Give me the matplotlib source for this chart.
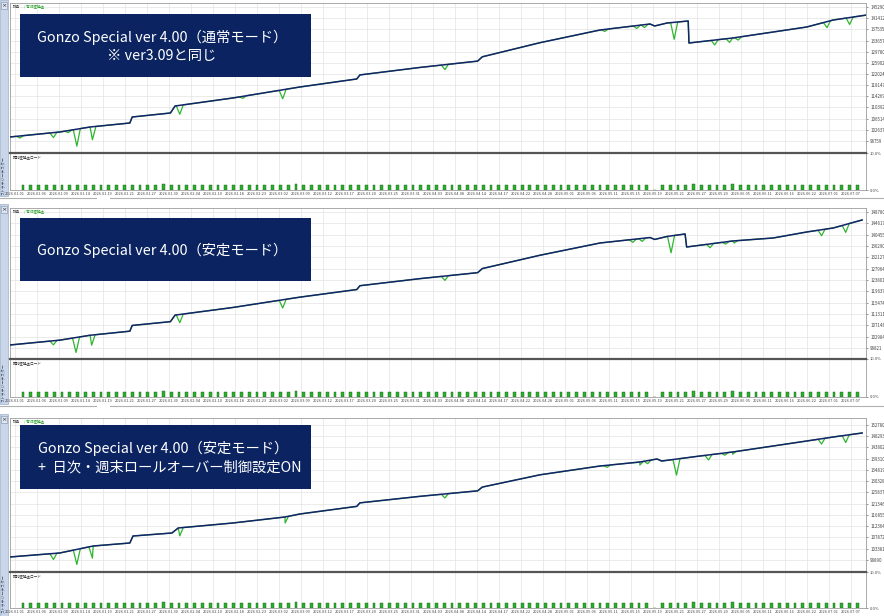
import numpy as np
import matplotlib
matplotlib.use("Agg")
import matplotlib.pyplot as plt
from matplotlib.patches import Rectangle

plt.rcParams['font.family'] = ['Noto Sans CJK JP', 'DejaVu Sans']

# ---------------- data ----------------
date_labels = ["2026.01.01", "2026.01.06", "2026.01.09", "2026.01.14", "2026.01.19",
               "2026.01.21", "2026.01.27", "2026.01.30", "2026.02.04", "2026.02.10",
               "2026.02.18", "2026.02.23", "2026.03.02", "2026.03.09", "2026.03.12",
               "2026.03.17", "2026.03.20", "2026.03.25", "2026.03.31", "2026.04.03",
               "2026.04.08", "2026.04.14", "2026.04.17", "2026.04.22", "2026.04.28",
               "2026.05.01", "2026.05.06", "2026.05.11", "2026.05.15", "2026.05.19",
               "2026.05.21", "2026.05.27", "2026.05.29", "2026.06.05", "2026.06.11",
               "2026.06.16", "2026.06.22", "2026.07.01", "2026.07.07"]

# Panel 1 : 通常モード
p1_trade = [-1.7, 4.7, 8.6, 13.7, 14.0, 18.9, 19.5, 26.9, 35.5, 42.8, 43.2, 50.9, 58.3, 58.9,
            66.3, 74.0, 80.4, 81.0, 82.6, 85.3, 85.4, 91.0, 96.2, 100.5, 103.9, 108.2]
p1_balance = [100148, 101884, 103621, 105010, 107093, 108482, 110913, 113691, 117511, 120300,
              121700, 124300, 126500, 128000, 132900, 137304, 139387, 138700, 139735, 140429,
              132789, 134525, 136609, 138345, 140776, 142512]
p1_dip_trade = [-0.4, 3.9, 5.8, 6.9, 8.9, 20.1, 28.2, 33.3, 54.1, 74.6, 78.7, 79.7, 83.5, 88.7,
                90.6, 91.7, 103.1, 106.0]
p1_dip_depth = [700, 1700, 700, 5900, 4500, 3100, 700, 3100, 1700, 700, 1000, 1000, 5900, 1700,
                1400, 1000, 2100, 2400]
p1_yticks = [98759, 102637, 106514, 110392, 114269, 118147, 122024, 125902, 129780, 133657,
             137535, 141412, 145290]

# Panel 2 : 安定モード
p2_trade = [-1.7, 4.7, 8.6, 13.7, 14.0, 18.9, 19.5, 26.9, 35.5, 42.8, 43.2, 50.9, 58.3, 58.9,
            66.3, 74.0, 80.4, 81.0, 82.6, 84.9, 85.1, 91.0, 96.2, 100.5, 103.9, 107.6]
p2_balance = [99923, 101700, 103500, 105000, 107100, 108500, 110900, 113700, 117500, 120300,
              121700, 124300, 126500, 128000, 132900, 137398, 139400, 138700, 139800, 140705,
              135928, 138133, 139235, 141439, 142909, 145848]
p2_dip_trade = [3.9, 6.8, 8.8, 20.1, 33.3, 54.1, 78.2, 79.4, 83.1, 88.1, 90.1, 91.2, 102.4, 105.5]
p2_dip_depth = [1500, 5500, 3700, 3000, 3000, 1600, 1100, 1100, 6200, 1400, 800, 800, 2200, 2900]
p2_yticks = [98821, 102984, 107148, 111311, 115474, 119637, 123801, 127964, 132127, 136290,
             140455, 144617, 148780]

# Panel 3 : 安定モード + ロールオーバー制御
p3_trade = [-1.7, 4.7, 9.0, 13.7, 14.1, 19.1, 19.9, 26.9, 33.6, 35.5, 42.8, 43.2, 50.9, 58.3,
            58.9, 66.3, 74.0, 79.1, 81.3, 81.9, 86.8, 91.0, 96.2, 100.5, 103.9, 107.6]
p3_balance = [100088, 101685, 104479, 105677, 108471, 109668, 111664, 113660, 116056, 117253,
              120300, 121700, 124300, 126500, 128000, 132900, 136415, 138000, 139210, 138400,
              140400, 142003, 144399, 146395, 147992, 149588]
p3_dip_trade = [3.9, 6.9, 8.9, 20.1, 33.6, 54.1, 74.9, 79.1, 80.1, 83.8, 87.9, 90.0, 91.0,
                102.4, 105.5]
p3_dip_depth = [2400, 6000, 4800, 3200, 2400, 1600, 800, 1200, 1200, 6400, 2000, 900, 900,
                2100, 2900]
p3_yticks = [98890, 103381, 107872, 112364, 116855, 121346, 125837, 130328, 134819, 139310,
             143802, 148293, 152780]

# 預託証拠金ロード (%) per trade
load_pct = [1.3, 1.3, 1.3, 1.3, 1.3, 1.3, 1.3, 1.3, 1.3, 1.3, 1.3, 1.3,
            1.3, 1.3, 1.3, 1.3, 1.3, 1.3, 1.6, 1.3, 1.3, 1.3, 1.3, 1.3,
            1.3, 1.3, 1.3, 1.3, 1.3, 1.3, 1.3, 1.3, 1.3, 1.3, 1.3, 1.6,
            1.3, 1.3, 1.3, 1.3, 1.3, 1.3, 1.3, 1.3, 1.3, 1.3, 1.3, 1.3,
            1.3, 1.3, 1.3, 1.3, 1.3, 1.3, 1.3, 1.3, 1.3, 1.3, 1.3, 1.3,
            1.3, 1.3, 1.3, 1.3, 1.3, 1.3, 1.3, 1.3, 1.3, 1.3, 1.3, 1.3,
            1.3, 1.3, 1.3, 1.3, 1.3, 1.3, 1.3, 1.3, 1.3, 0.0, 1.3, 1.3,
            1.3, 1.3, 1.6, 1.3, 1.3, 1.3, 1.3, 1.6, 1.3, 1.3, 1.3, 1.3,
            1.3, 1.3, 1.3, 1.3, 1.3, 1.3, 1.3, 1.3, 1.3, 1.3, 1.3, 1.3]

titles = [["Gonzo Special ver 4.00（通常モード）", "※ ver3.09と同じ"],
          ["Gonzo Special ver 4.00（安定モード）"],
          ["Gonzo Special ver 4.00（安定モード）", "+  日次・週末ロールオーバー制御設定ON"]]

# ---------------- drawing ----------------
W, H = 884, 616
fig = plt.figure(figsize=(W / 100, H / 100), dpi=100)
fig.patch.set_facecolor('white')


def px_axes(x0, y0, x1, y1):
    return fig.add_axes([x0 / W, 1 - y1 / H, (x1 - x0) / W, (y1 - y0) / H])


def fx(x):
    return x / W


def fy(y):
    return 1 - y / H


XLIM = (-1.67, 108.1)
date_pos = np.linspace(-1.03, 106.2, len(date_labels))
BAL_C = '#14246a'
EQ_C = '#2fb52f'
GRID_C = '#e3e3e3'
FRAME_C = '#9c9c9c'


def build_equity(bx, bv, dx, dd):
    ex, ev = list(bx), list(bv)
    for u, d in zip(dx, dd):
        for du, k in ((-0.45, 0.0), (0.0, 1.0), (0.45, 0.0)):
            ex.append(u + du)
            ev.append(float(np.interp(u + du, bx, bv)) - k * d)
    order = np.argsort(ex, kind='stable')
    return np.array(ex)[order], np.array(ev)[order]


def draw_panel(ptop, top, sep, bot, pbot, bx, bv, dx, dd, yticks, ylim, title, title_layout):
    # left tool strip
    fig.add_artist(Rectangle((fx(0), fy(pbot)), fx(8), fy(ptop) - fy(pbot),
                             transform=fig.transFigure, facecolor='#c9d6ea',
                             edgecolor='#9fb0c8', lw=0.5, zorder=0))
    fig.add_artist(Rectangle((fx(1), fy(ptop + 9)), fx(6), fy(ptop + 2) - fy(ptop + 9),
                             transform=fig.transFigure, facecolor='#dfe6f2',
                             edgecolor='#7f8fa8', lw=0.4, zorder=1))
    fig.text(fx(4), fy(ptop + 5.5), '×', fontsize=4.5, ha='center', va='center',
             color='#333333', family=['DejaVu Sans'])
    fig.text(fx(4), fy(bot - 14), 'ストラテジーテスター', fontsize=2.8, rotation=90,
             ha='center', va='center', color='#3a4a6a')

    ax = px_axes(10, top, 866, sep)
    sub = px_axes(10, sep, 866, bot)

    ex, ev = build_equity(bx, bv, dx, dd)
    ax.plot(ex, ev, color=EQ_C, lw=0.9, zorder=3)
    ax.plot(bx, bv, color=BAL_C, lw=1.1, zorder=4)
    ax.set_xlim(*XLIM)
    ax.set_ylim(*ylim)
    ax.set_yticks(yticks)
    ax.set_yticklabels([str(v) for v in yticks])
    ax.yaxis.tick_right()
    ax.tick_params(axis='y', labelsize=3.2, length=1.5, pad=1.5, colors='#444444',
                   width=0.4)
    ax.set_xticks(date_pos)
    ax.tick_params(axis='x', length=0, labelbottom=False)
    ax.grid(True, color=GRID_C, lw=0.5)
    ax.set_axisbelow(True)
    for s in ax.spines.values():
        s.set_color(FRAME_C)
        s.set_linewidth(0.6)
    ax.spines['bottom'].set_visible(False)
    ax.text(0.003, 0.985, '残高', transform=ax.transAxes, fontsize=2.6,
            color='#333333', va='top', ha='left')
    ax.text(0.016, 0.985, '/ 有効証拠金', transform=ax.transAxes, fontsize=2.6,
            color='#1f9a1f', va='top', ha='left')

    idx = np.arange(len(load_pct))
    sub.bar(idx, load_pct, width=0.36, color='#2bb02b', edgecolor='#175f17', lw=0.3,
            zorder=3)
    sub.set_xlim(*XLIM)
    sub.set_ylim(0, 10)
    sub.set_yticks([0, 10])
    sub.set_yticklabels(['0.0%', '10.0%'])
    sub.yaxis.tick_right()
    sub.tick_params(axis='y', labelsize=3.0, length=1.5, pad=1.5, colors='#444444',
                    width=0.4)
    sub.set_xticks(date_pos)
    sub.set_xticklabels(date_labels)
    sub.tick_params(axis='x', labelsize=2.8, length=0, pad=1.2, colors='#444444')
    sub.grid(True, axis='x', color=GRID_C, lw=0.5)
    sub.set_axisbelow(True)
    for s in sub.spines.values():
        s.set_color(FRAME_C)
        s.set_linewidth(0.6)
    sub.spines['top'].set_color('#555555')
    sub.spines['top'].set_linewidth(1.6)
    sub.text(0.003, 0.93, '預託証拠金ロード', transform=sub.transAxes, fontsize=2.6,
             color='#333333', va='top', ha='left')

    # title box
    bx0, by0, bx1, by1 = title_layout['box']
    fig.add_artist(Rectangle((fx(bx0), fy(by1)), fx(bx1) - fx(bx0), fy(by0) - fy(by1),
                             transform=fig.transFigure, facecolor='#0b2461',
                             edgecolor='none', zorder=10))
    for (tx, ty, ha), line in zip(title_layout['lines'], title):
        fig.text(fx(tx), fy(ty), line, color='white', fontsize=10.3, ha=ha, va='center',
                 zorder=11)


# panel 1
draw_panel(0, 3, 153, 190, 196, p1_trade, p1_balance, p1_dip_trade, p1_dip_depth, p1_yticks,
           (p1_yticks[0] - 12 * 347.25, p1_yticks[-1] + 4 * 347.25),
           titles[0], {'box': (20, 14, 311, 77),
                       'lines': [(162, 37, 'center'), (162, 56, 'center')]})
# panel 2
draw_panel(204, 208, 359, 397, 404, p2_trade, p2_balance, p2_dip_trade, p2_dip_depth, p2_yticks,
           (p2_yticks[0] - 11 * 367.4, p2_yticks[-1] + 4 * 367.4),
           titles[1], {'box': (20, 218, 311, 281), 'lines': [(162, 250, 'center')]})
# panel 3
draw_panel(414, 418, 572, 608, 616, p3_trade, p3_balance, p3_dip_trade, p3_dip_depth, p3_yticks,
           (p3_yticks[0] - 12 * 399.2, p3_yticks[-1] + 7 * 399.2),
           titles[2], {'box': (20, 425, 311, 489),
                       'lines': [(38, 448, 'left'), (38, 467, 'left')]})

# separators between panels (scroll bars)
for y in (198, 406):
    fig.add_artist(plt.Line2D([fx(0), fx(96)], [fy(y), fy(y)], transform=fig.transFigure,
                              color='#b0b0b0', lw=0.8))
    fig.add_artist(plt.Line2D([fx(110), fx(884)], [fy(y), fy(y)], transform=fig.transFigure,
                              color='#b0b0b0', lw=0.8))

fig.savefig('out.png', dpi=100, facecolor='white')
